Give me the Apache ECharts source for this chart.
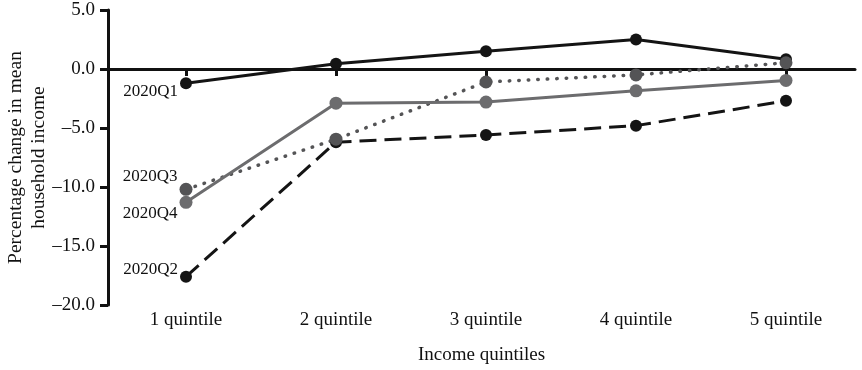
<!DOCTYPE html>
<html>
<head>
<meta charset="utf-8">
<script src="https://cdn.jsdelivr.net/npm/echarts@6/dist/echarts.min.js"></script>
<style>
html,body{margin:0;padding:0;background:#fff;}
#chart{width:862px;height:370px;}
</style>
</head>
<body>
<div id="chart"></div>
<script>
// ---- data ----
const categories = ['1 quintile', '2 quintile', '3 quintile', '4 quintile', '5 quintile'];
const seriesNames = ['2020Q1', '2020Q2', '2020Q3', '2020Q4'];
const q1 = [-1.2, 0.45, 1.5, 2.5, 0.83];
const q2 = [-17.6, -6.2, -5.6, -4.8, -2.7];
const q3 = [-10.2, -5.95, -1.1, -0.5, 0.53];
const q4 = [-11.3, -2.9, -2.8, -1.85, -0.97];
const yAxisName = 'Percentage change in mean\nhousehold income';
const xAxisName = 'Income quintiles';

// ---- chart ----
const FONT = 'Liberation Serif';
const positions = categories.map((c, i) => i + 1);

function build(values, labelOffset) {
  return values.map((v, i) => {
    if (i === 0) {
      return {
        value: [positions[i], v],
        label: {
          show: true,
          position: 'left',
          distance: 2,
          offset: labelOffset,
          fontFamily: FONT,
          fontSize: 17,
          color: '#111',
          formatter: '{a}'
        }
      };
    }
    return [positions[i], v];
  });
}

const chart = echarts.init(document.getElementById('chart'), null, {renderer: 'canvas'});
chart.setOption({
  animation: false,
  backgroundColor: '#fff',
  grid: {left: 108, right: 7, top: 10, bottom: 65, outerBoundsMode: 'none', containLabel: false},
  xAxis: [
    {
      type: 'value',
      min: 0.48,
      max: 5.46,
      position: 'bottom',
      axisLine: {show: false, onZero: false},
      axisTick: {show: false},
      splitLine: {show: false},
      axisLabel: {
        customValues: positions,
        margin: 6,
        fontFamily: FONT,
        fontSize: 19,
        color: '#111',
        formatter: v => categories[Math.round(v) - 1]
      },
      name: xAxisName,
      nameLocation: 'middle',
      nameGap: 41,
      nameMoveOverlap: false,
      nameTextStyle: {fontFamily: FONT, fontSize: 19, color: '#111'}
    },
    {
      type: 'value',
      min: 0.48,
      max: 5.46,
      position: 'top',
      axisLine: {show: true, onZero: true, lineStyle: {color: '#111', width: 3}},
      axisTick: {show: true, inside: true, length: 7, customValues: positions, lineStyle: {color: '#111', width: 3}},
      axisLabel: {show: false},
      splitLine: {show: false}
    }
  ],
  yAxis: {
    type: 'value',
    min: -20,
    max: 5,
    interval: 5,
    axisLine: {show: true, onZero: false, lineStyle: {color: '#111', width: 3}},
    axisTick: {show: true, length: 8, lineStyle: {color: '#111', width: 3}},
    splitLine: {show: false},
    axisLabel: {
      margin: 13,
      fontFamily: FONT,
      fontSize: 19,
      color: '#111',
      formatter: v => (v < 0 ? '\u2013' : '') + Math.abs(v).toFixed(1)
    },
    name: yAxisName,
    nameLocation: 'middle',
    nameGap: 58,
    nameMoveOverlap: false,
    nameRotate: 90,
    nameTextStyle: {fontFamily: FONT, fontSize: 19.5, color: '#111', lineHeight: 23, align: 'center'}
  },
  series: [
    {
      name: seriesNames[0], type: 'line', xAxisIndex: 0,
      data: build(q1, [0, 8]),
      symbol: 'circle', symbolSize: 12,
      itemStyle: {color: '#141414'},
      lineStyle: {color: '#141414', width: 3}
    },
    {
      name: seriesNames[1], type: 'line', xAxisIndex: 0,
      data: build(q2, [0, -7]),
      symbol: 'circle', symbolSize: 12,
      itemStyle: {color: '#141414'},
      lineStyle: {color: '#141414', width: 3, type: [17, 8]}
    },
    {
      name: seriesNames[2], type: 'line', xAxisIndex: 0,
      data: build(q3, [0, -13]),
      symbol: 'circle', symbolSize: 13,
      itemStyle: {color: '#545456'},
      lineStyle: {color: '#545456', width: 3.5, type: [0.5, 9], cap: 'round'}
    },
    {
      name: seriesNames[3], type: 'line', xAxisIndex: 0,
      data: build(q4, [0, 11]),
      symbol: 'circle', symbolSize: 13,
      itemStyle: {color: '#6c6c6e'},
      lineStyle: {color: '#6c6c6e', width: 3}
    }
  ]
});
</script>
</body>
</html>
